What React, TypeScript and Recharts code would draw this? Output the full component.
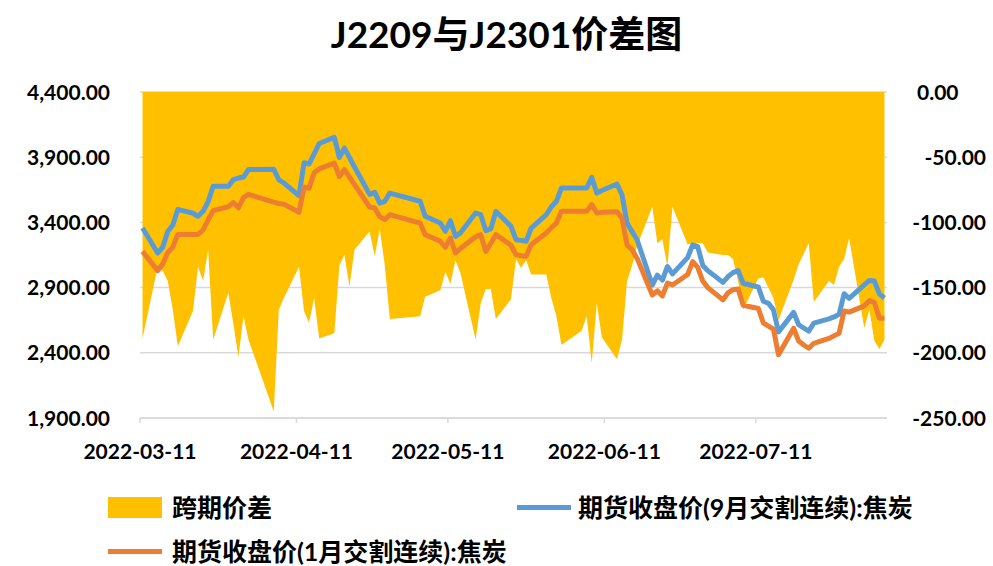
import React from "react";
import { ComposedChart, Area, Line, XAxis, YAxis, CartesianGrid } from "recharts";

// trading days, 2022-03-11 .. 2022-08-05
const tradeDates = [
  "2022-03-11", "2022-03-14", "2022-03-15", "2022-03-16", "2022-03-17", "2022-03-18",
  "2022-03-21", "2022-03-22", "2022-03-23", "2022-03-24", "2022-03-25",
  "2022-03-28", "2022-03-29", "2022-03-30", "2022-03-31", "2022-04-01",
  "2022-04-06", "2022-04-07", "2022-04-08",
  "2022-04-11", "2022-04-12", "2022-04-13", "2022-04-14", "2022-04-15",
  "2022-04-18", "2022-04-19", "2022-04-20", "2022-04-21", "2022-04-22",
  "2022-04-25", "2022-04-26", "2022-04-27", "2022-04-28", "2022-04-29",
  "2022-05-05", "2022-05-06",
  "2022-05-09", "2022-05-10", "2022-05-11", "2022-05-12", "2022-05-13",
  "2022-05-16", "2022-05-17", "2022-05-18", "2022-05-19", "2022-05-20",
  "2022-05-23", "2022-05-24", "2022-05-25", "2022-05-26", "2022-05-27",
  "2022-05-30", "2022-05-31", "2022-06-01", "2022-06-02",
  "2022-06-06", "2022-06-07", "2022-06-08", "2022-06-09", "2022-06-10",
  "2022-06-13", "2022-06-14", "2022-06-15", "2022-06-16", "2022-06-17",
  "2022-06-20", "2022-06-21", "2022-06-22", "2022-06-23", "2022-06-24",
  "2022-06-27", "2022-06-28", "2022-06-29", "2022-06-30", "2022-07-01",
  "2022-07-04", "2022-07-05", "2022-07-06", "2022-07-07", "2022-07-08",
  "2022-07-11", "2022-07-12", "2022-07-13", "2022-07-14", "2022-07-15",
  "2022-07-18", "2022-07-19", "2022-07-20", "2022-07-21", "2022-07-22",
  "2022-07-25", "2022-07-26", "2022-07-27", "2022-07-28", "2022-07-29",
  "2022-08-01", "2022-08-02", "2022-08-03", "2022-08-04", "2022-08-05",
];

// 跨期价差 (right axis)
const spread = [
  -189, -134, -137, -145, -167, -195,
  -168, -134, -145, -121, -190,
  -154, -178, -203, -172, -190,
  -245, -167, -158,
  -134, -168, -177, -158, -189,
  -185, -133, -125, -149, -121,
  -107, -126, -105, -133, -174,
  -172, -157,
  -152, -138, -147, -129, -139,
  -190, -162, -151, -151, -174,
  -159, -128, -135, -129, -140,
  -140, -158, -172, -194,
  -183, -172, -208, -162, -188,
  -205, -190, -145, -133, -118,
  -88, -116, -113, -134, -88,
  -117, -116, -116, -116, -123,
  -125, -125, -128, -145, -167,
  -143, -142, -150, -158, -175,
  -144, -132, -124, -116, -161,
  -145, -148, -134, -128, -112,
  -181, -167, -191, -197, -190,
];

// 期货收盘价(9月交割连续):焦炭
const close9 = [
  3357, 3165, 3210, 3330, 3380, 3500,
  3470, 3447, 3485, 3560, 3677,
  3677, 3728, 3740, 3748, 3805,
  3808, 3727, 3702,
  3605, 3857, 3848, 3925, 4005,
  4052, 3898, 3970, 3898, 3825,
  3615, 3630, 3548, 3562, 3625,
  3562, 3447,
  3395, 3332, 3413, 3293, 3320,
  3472, 3459, 3337, 3350, 3485,
  3370, 3267, 3262, 3255, 3357,
  3459, 3520, 3562, 3664,
  3664, 3664, 3746, 3625, 3645,
  3694, 3610, 3393, 3329, 3265,
  2920, 2995, 2958, 3062, 3005,
  3130, 3228, 3214, 3070, 3030,
  2940, 2985, 3015, 3030, 2933,
  2905, 2795, 2780, 2730, 2560,
  2710, 2615, 2590, 2566, 2627,
  2660, 2675, 2695, 2853, 2818,
  2920, 2955, 2950, 2850, 2820,
];

// 期货收盘价(1月交割连续):焦炭
const close1 = [
  3178, 3030, 3080, 3170, 3210, 3308,
  3308, 3308, 3342, 3420, 3490,
  3520, 3552, 3512, 3590, 3615,
  3555, 3545, 3540,
  3478, 3670, 3662, 3780, 3810,
  3855, 3752, 3805, 3747, 3690,
  3518, 3510, 3444, 3421, 3459,
  3395, 3306,
  3255, 3209, 3280, 3165, 3200,
  3290, 3306, 3178, 3240, 3306,
  3225, 3152, 3145, 3140, 3229,
  3319, 3360, 3395, 3485,
  3485, 3485, 3536, 3472, 3478,
  3482, 3431, 3227, 3190, 3124,
  2843, 2875, 2836, 2935, 2920,
  3000, 3099, 3055, 2950, 2900,
  2806, 2860, 2884, 2890, 2765,
  2740, 2630, 2605, 2582, 2385,
  2588, 2490, 2460, 2435, 2473,
  2510, 2530, 2550, 2720, 2712,
  2760, 2800, 2785, 2665, 2665,
];

const xTickLabels = ["2022-03-11", "2022-04-11", "2022-05-11", "2022-06-11", "2022-07-11"];
const leftTicks = [1900, 2400, 2900, 3400, 3900, 4400];
const rightTicks = [-250, -200, -150, -100, -50, 0];

const DAY = 86400000;
const ORIGIN = Date.UTC(2022, 2, 11);
const dayOf = (s: string) => {
  const [y, m, d] = s.split("-").map(Number);
  return (Date.UTC(y, m - 1, d) - ORIGIN) / DAY;
};

const rows = tradeDates.map((dt, i) => ({
  d: dayOf(dt),
  spread: spread[i],
  c9: close9[i],
  c1: close1[i],
}));

const lastDay = dayOf(tradeDates[tradeDates.length - 1]);
const xTicks = xTickLabels.map((l) => dayOf(l) - 0.5);

const FONT = "Lato, 'Noto Sans CJK SC', sans-serif";
const BLUE = "#5B9BD5";
const ORANGE = "#ED7D31";
const GOLD = "#FFC000";
const TICK_SIZE = 21;

const fmt = (v: number) =>
  v.toLocaleString("en-US", { minimumFractionDigits: 2, maximumFractionDigits: 2 });

const LeftTick = (props: any) => (
  <text x={110} y={props.y} dy="0.36em" textAnchor="end" fontFamily={FONT} fontWeight={700} fontSize={TICK_SIZE} fill="#000">
    {fmt(props.payload.value)}
  </text>
);

const RightTick = (props: any) => {
  const v = props.payload.value;
  return (
    <text
      x={v === 0 ? 917 : 986}
      y={props.y}
      dy="0.36em"
      textAnchor={v === 0 ? "start" : "end"}
      fontFamily={FONT}
      fontWeight={700}
      fontSize={TICK_SIZE}
      fill="#000"
    >
      {fmt(v)}
    </text>
  );
};

const BottomTick = (props: any) => (
  <text x={props.x} y={451} dy="0.36em" textAnchor="middle" fontFamily={FONT} fontWeight={700} fontSize={TICK_SIZE} fill="#000">
    {xTickLabels[props.index]}
  </text>
);

const legendText: React.CSSProperties = {
  position: "absolute",
  fontFamily: FONT,
  fontWeight: 700,
  fontSize: 25,
  lineHeight: "26px",
  color: "#000",
  whiteSpace: "nowrap",
};

export default function App() {
  return (
    <div style={{ position: "absolute", left: 0, top: 0, width: 993, height: 566, background: "#fff" }}>
      <div
        style={{
          position: "absolute",
          left: 0,
          top: 13,
          width: 1013,
          textAlign: "center",
          fontFamily: FONT,
          fontWeight: 700,
          fontSize: 37,
          lineHeight: "42px",
          color: "#000",
        }}
      >
        J2209与J2301价差图
      </div>

      <ComposedChart width={993} height={566} data={rows} margin={{ top: 92, right: 0, bottom: 0, left: 0 }}>
        <CartesianGrid yAxisId="left" vertical={false} stroke="#d9d9d9" strokeWidth={1.5} />
        <XAxis
          type="number"
          dataKey="d"
          domain={[-0.5, lastDay + 0.5]}
          ticks={xTicks}
          tick={BottomTick}
          height={148}
          axisLine={{ stroke: "#d9d9d9", strokeWidth: 1.5 }}
          tickLine={{ stroke: "#d9d9d9", strokeWidth: 1.5 }}
          tickSize={5}
          interval={0}
          allowDataOverflow
        />
        <YAxis
          yAxisId="left"
          orientation="left"
          domain={[1900, 4400]}
          ticks={leftTicks}
          tick={LeftTick}
          width={140}
          axisLine={false}
          tickLine={false}
          interval={0}
        />
        <YAxis
          yAxisId="right"
          orientation="right"
          domain={[-250, 0]}
          ticks={rightTicks}
          tick={RightTick}
          width={106}
          axisLine={false}
          tickLine={false}
          interval={0}
        />
        <Area
          yAxisId="right"
          type="linear"
          dataKey="spread"
          baseValue={0}
          fill={GOLD}
          fillOpacity={1}
          stroke="none"
          dot={false}
          activeDot={false}
          isAnimationActive={false}
        />
        <Line
          yAxisId="left"
          type="linear"
          dataKey="c9"
          stroke={BLUE}
          strokeWidth={5}
          strokeLinejoin="round"
          dot={false}
          activeDot={false}
          isAnimationActive={false}
        />
        <Line
          yAxisId="left"
          type="linear"
          dataKey="c1"
          stroke={ORANGE}
          strokeWidth={5}
          strokeLinejoin="round"
          dot={false}
          activeDot={false}
          isAnimationActive={false}
        />
      </ComposedChart>

      <div style={{ position: "absolute", left: 108, top: 497, width: 54, height: 21, background: GOLD }} />
      <div style={{ ...legendText, left: 172, top: 494 }}>跨期价差</div>

      <div style={{ position: "absolute", left: 517, top: 505, width: 54, height: 5, background: BLUE }} />
      <div style={{ ...legendText, left: 578, top: 494 }}>期货收盘价(9月交割连续):焦炭</div>

      <div style={{ position: "absolute", left: 108, top: 549, width: 54, height: 5, background: ORANGE }} />
      <div style={{ ...legendText, left: 172, top: 538 }}>期货收盘价(1月交割连续):焦炭</div>
    </div>
  );
}
